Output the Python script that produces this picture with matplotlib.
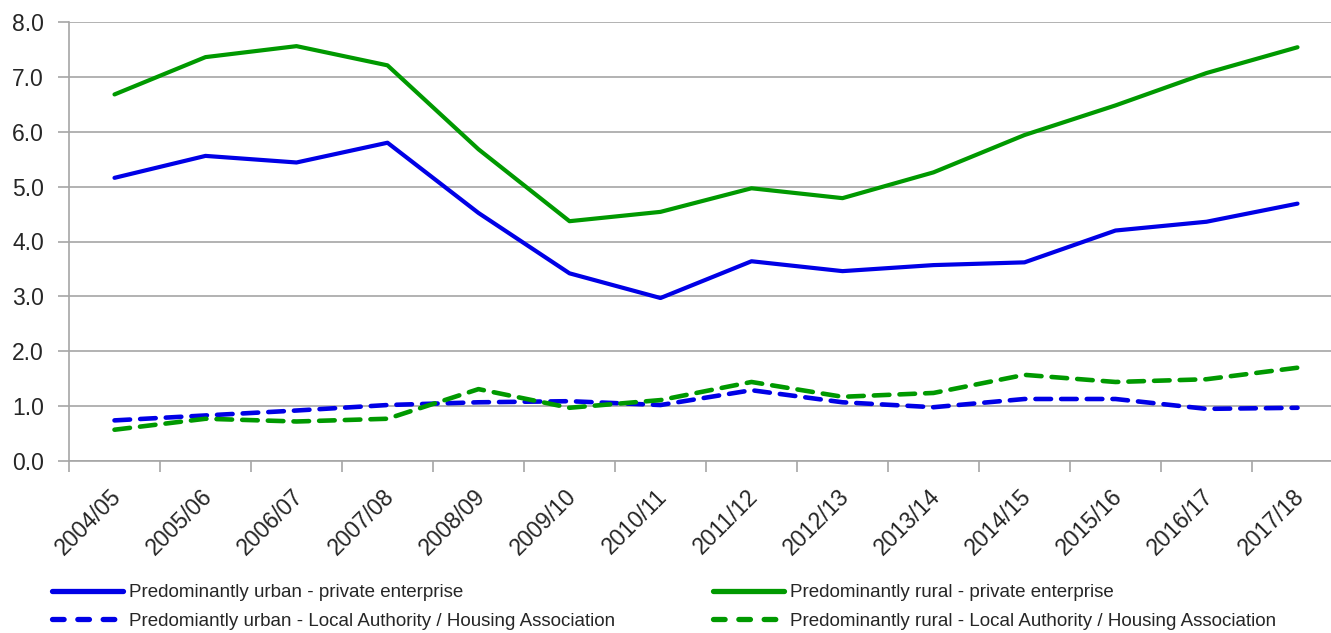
import numpy as np
import matplotlib
matplotlib.use("Agg")
import matplotlib.pyplot as plt
import matplotlib.transforms as mtransforms
from matplotlib.ticker import FixedLocator
from matplotlib.lines import Line2D

plt.rcParams['font.family'] = ['Liberation Sans', 'DejaVu Sans']

years = ["2004/05", "2005/06", "2006/07", "2007/08", "2008/09", "2009/10", "2010/11",
         "2011/12", "2012/13", "2013/14", "2014/15", "2015/16", "2016/17", "2017/18"]

urban_private = [5.16, 5.56, 5.44, 5.80, 4.52, 3.42, 2.97, 3.64, 3.46, 3.57, 3.62, 4.20, 4.36, 4.69]
rural_private = [6.68, 7.36, 7.56, 7.21, 5.68, 4.37, 4.54, 4.97, 4.79, 5.26, 5.94, 6.48, 7.07, 7.54]
urban_la = [0.74, 0.83, 0.92, 1.02, 1.07, 1.09, 1.02, 1.29, 1.07, 0.98, 1.13, 1.13, 0.95, 0.97]
rural_la = [0.57, 0.77, 0.72, 0.77, 1.31, 0.97, 1.11, 1.44, 1.17, 1.24, 1.57, 1.44, 1.49, 1.70]

labels = ["Predominantly urban - private enterprise",
          "Predomiantly urban - Local Authority / Housing Association",
          "Predominantly rural - private enterprise",
          "Predominantly rural - Local Authority / Housing Association"]

blue = "#0000e6"
green = "#009900"
grid_c = "#a6a6a6"
txt_c = "#262626"

fig = plt.figure(figsize=(13.31, 6.33), dpi=100)
ax = fig.add_axes([69 / 1331, 172 / 633, (1343 - 69) / 1331, 439 / 633])

x = np.arange(len(years))
dash = (0, (3.4, 2.2))
ax.plot(x, urban_private, color=blue, lw=3, solid_capstyle="round", solid_joinstyle="round")
ax.plot(x, rural_private, color=green, lw=3, solid_capstyle="round", solid_joinstyle="round")
ax.plot(x, urban_la, color=blue, lw=3.3, ls=dash, dash_capstyle="round")
ax.plot(x, rural_la, color=green, lw=3.3, ls=dash, dash_capstyle="round")

ax.set_xlim(-0.5, len(years) - 0.5)
ax.set_ylim(0, 8)
yt = np.arange(0, 8.1, 1.0)
ax.set_yticks(yt)
ax.set_yticklabels([f"{v:.1f}" for v in yt])
ax.yaxis.grid(True, color=grid_c, lw=1.2)
ax.set_axisbelow(True)

ax.set_xticks(x)
ax.set_xticklabels(years, rotation=45, ha="right", rotation_mode="anchor")
ax.xaxis.set_minor_locator(FixedLocator(np.arange(-0.5, len(years), 1.0)))
ax.tick_params(axis="x", which="major", length=0, pad=15, labelsize=16.5, colors=txt_c)
ax.tick_params(axis="x", which="minor", length=8, width=1.2, color=grid_c)
ax.tick_params(axis="y", length=8, width=1.2, color=grid_c, labelsize=16.5,
               labelcolor=txt_c, pad=10)

# nudge rotated year labels a little left/down
offset = mtransforms.ScaledTranslation(-5 / 100, -3 / 100, fig.dpi_scale_trans)
for lab in ax.get_xticklabels():
    lab.set_transform(lab.get_transform() + offset)

for s in ["top", "right"]:
    ax.spines[s].set_visible(False)
for s in ["left", "bottom"]:
    ax.spines[s].set_color(grid_c)
    ax.spines[s].set_linewidth(1.2)

# legend handles (legend dashes are shorter than in the plot)
leg_dash = (0, (2.2, 2.6))
h_up = Line2D([], [], color=blue, lw=3.8, solid_capstyle="round")
h_ula = Line2D([], [], color=blue, lw=3.8, ls=leg_dash, dash_capstyle="round")
h_rp = Line2D([], [], color=green, lw=3.8, solid_capstyle="round")
h_rla = Line2D([], [], color=green, lw=3.8, ls=leg_dash, dash_capstyle="round")

leg_kw = dict(loc="center left", frameon=False, fontsize=13.5, handlelength=3.8,
              handletextpad=0.3, labelspacing=0.62, borderpad=0, borderaxespad=0,
              labelcolor=txt_c)
fig.legend([h_up, h_ula], labels[:2], bbox_to_anchor=(52 / 1331, 1 - 607 / 633), **leg_kw)
fig.legend([h_rp, h_rla], labels[2:], bbox_to_anchor=(713 / 1331, 1 - 607 / 633), **leg_kw)

fig.savefig("out.png", dpi=100)
